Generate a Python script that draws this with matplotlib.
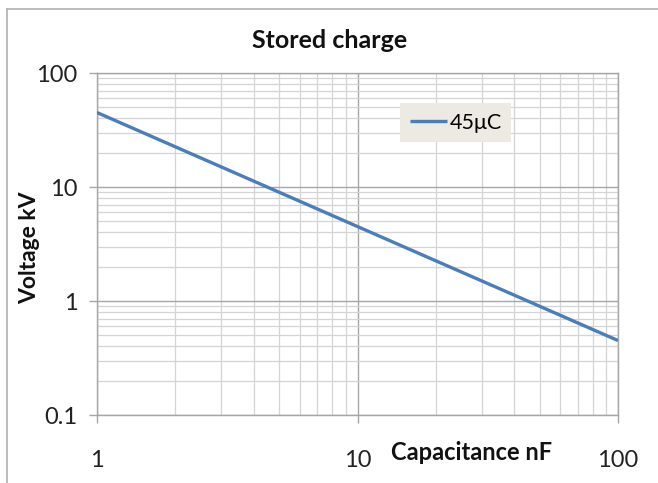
import numpy as np
import matplotlib.pyplot as plt
from matplotlib.lines import Line2D
from matplotlib.ticker import LogLocator, NullFormatter, FixedLocator, FixedFormatter

# 데이터
capacitance = [1, 100]          # nF
voltage = [45, 0.45]            # kV  (Q = 45 uC)
series_label = '45μC'
x_ticks = [1, 10, 100]
x_tick_labels = ['1', '10', '100']
y_ticks = [0.1, 1, 10, 100]
y_tick_labels = ['0.1', '1', '10', '100']

plt.rcParams['font.family'] = ['Lato', 'DejaVu Sans']

fig = plt.figure(figsize=(6.58, 4.83), dpi=100)
W, H = 658, 483
ax = fig.add_axes([97 / W, 1 - 415 / H, (618 - 97) / W, (415 - 73) / H])

line, = ax.plot(capacitance, voltage, color='#4A7EBB', lw=2.4, label=series_label,
                solid_capstyle='butt', zorder=3)

ax.set_xscale('log')
ax.set_yscale('log')
ax.set_xlim(1, 100)
ax.set_ylim(0.1, 100)

ax.xaxis.set_major_locator(FixedLocator(x_ticks))
ax.xaxis.set_major_formatter(FixedFormatter(x_tick_labels))
ax.yaxis.set_major_locator(FixedLocator(y_ticks))
ax.yaxis.set_major_formatter(FixedFormatter(y_tick_labels))
ax.xaxis.set_minor_locator(LogLocator(base=10, subs=np.arange(2, 10)))
ax.yaxis.set_minor_locator(LogLocator(base=10, subs=np.arange(2, 10)))
ax.xaxis.set_minor_formatter(NullFormatter())
ax.yaxis.set_minor_formatter(NullFormatter())

ax.grid(which='major', color='#a6a6a6', lw=1.0, zorder=1)
ax.grid(which='minor', color='#d4d4d4', lw=0.9, zorder=1)
ax.set_axisbelow(True)

for s in ax.spines.values():
    s.set_color('#a6a6a6')
    s.set_linewidth(1.0)

ax.tick_params(which='major', direction='out', length=6, color='#a6a6a6', width=1.0,
               labelsize=17, labelcolor='#222222')
ax.tick_params(axis='x', which='major', pad=19)
ax.tick_params(axis='y', which='major', pad=8)
ax.tick_params(which='minor', length=0)

fig.text(330 / W, 1 - 40 / H, 'Stored charge', ha='center', va='center',
         fontsize=18, fontweight='bold', color='#111111')
fig.text(30 / W, 1 - 248 / H, 'Voltage kV', ha='center', va='center', rotation=90,
         fontsize=16.5, fontweight='bold', color='#111111')
fig.text(472 / W, 1 - 452 / H, 'Capacitance nF', ha='center', va='center',
         fontsize=17, fontweight='bold', color='#111111')

leg = ax.legend(handles=[line], loc='upper left',
                bbox_to_anchor=(400 / W, 1 - 103 / H), bbox_transform=fig.transFigure,
                fontsize=15.5, frameon=True, fancybox=False, handlelength=1.75,
                handletextpad=0.1, borderpad=0.45, borderaxespad=0)
leg.get_frame().set_facecolor('#ECEAE2')
leg.get_frame().set_edgecolor('none')
leg.get_frame().set_alpha(1)

# 바깥 테두리
fig.add_artist(Line2D([7 / W, 1], [1 - 9 / H, 1 - 9 / H], transform=fig.transFigure,
                      color='#b0b0b0', lw=1.2))
fig.add_artist(Line2D([7 / W, 7 / W], [1 - 9 / H, 0], transform=fig.transFigure,
                      color='#b0b0b0', lw=1.2))

fig.savefig('out.png', dpi=100)
